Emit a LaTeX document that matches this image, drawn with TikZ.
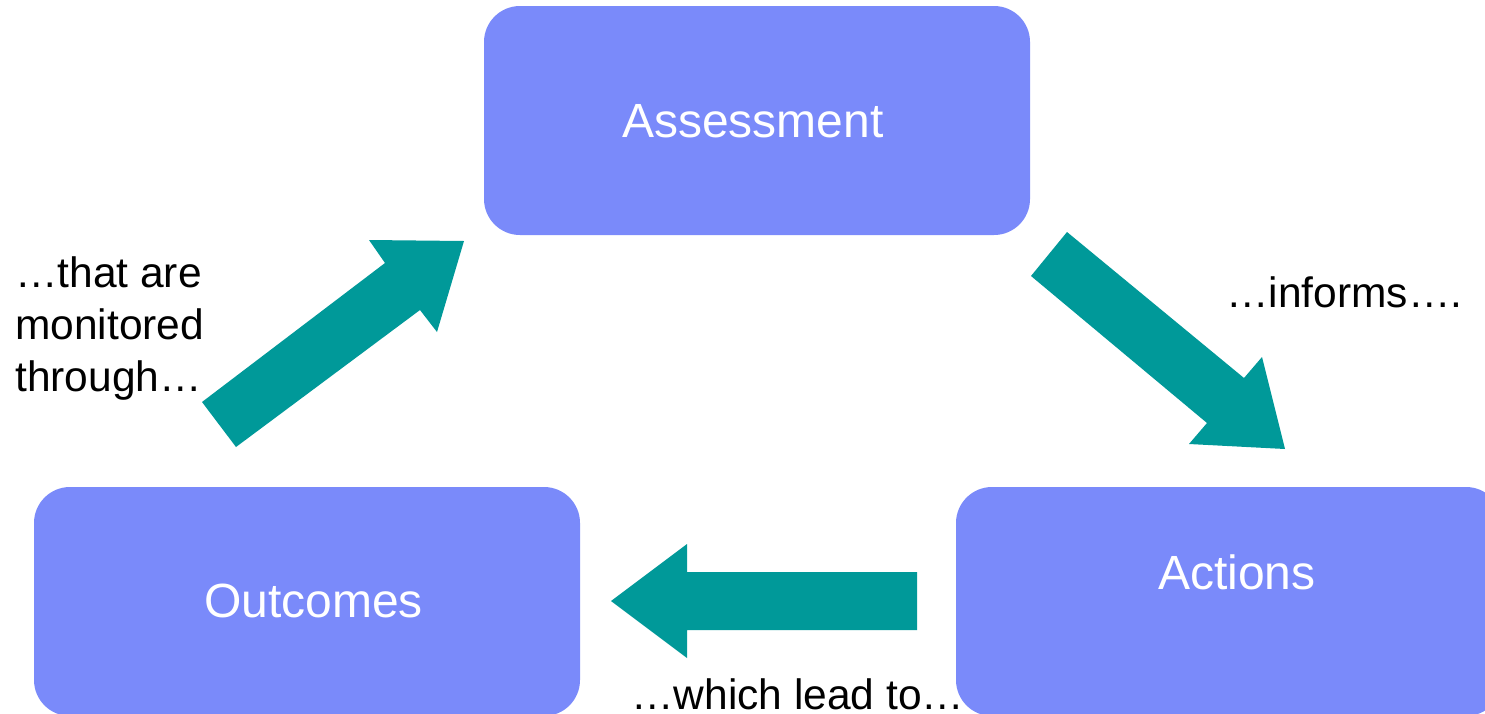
\documentclass[tikz,border=0pt]{standalone}
\usepackage{fontspec}
\setmainfont{Liberation Sans}
\definecolor{boxblue}{RGB}{122,138,250}
\definecolor{teal}{RGB}{0,153,153}
\begin{document}
\begin{tikzpicture}[x=1pt,y=-1pt,
  stagebox/.style={fill=boxblue, draw=none, rounded corners=36pt, minimum width=546pt, minimum height=229pt, inner sep=0pt},
  stagetext/.style={text=white, font=\fontsize{48}{57}\selectfont, anchor=base west, inner sep=0pt},
  labeltext/.style={text=black, font=\fontsize{42.5}{52}\selectfont, anchor=base west, inner sep=0pt},
  blockarrow/.style={fill=teal, draw=none}]
\useasboundingbox (0,0) rectangle (1485,713);
\path[fill=white] (0,0) rectangle (1485,713);
% boxes
\node[stagebox] (assess) at (757,120.5) {};
\node[stagebox] (outc) at (307,601.5) {};
\node[stagebox] (act) at (1229,601.5) {};
% box texts
\node[stagetext] (assesst) at (622,137) {Assessment};
\node[stagetext] (outct) at (204,617) {Outcomes};
\node[stagetext] (actt) at (1158,589) {Actions};
% arrows
\fill[blockarrow] (202,402) -- (385,263) -- (369,240) -- (464,241) -- (437,332) -- (420,310) -- (236,447) -- cycle;
\fill[blockarrow] (1067,232) -- (1244,378) -- (1262,357) -- (1285,449) -- (1189,444) -- (1207,423) -- (1031,276) -- cycle;
\fill[blockarrow] (611,601) -- (687,544) -- (687,572) -- (917,572) -- (917,630) -- (687,630) -- (687,658) -- cycle;
% labels
\node[labeltext] (l1a) at (15,287) {…that are};
\node[labeltext] (l1b) at (15,339) {monitored};
\node[labeltext] (l1c) at (15,391) {through…};
\node[labeltext] (l2) at (1226,307) {…informs….};
\node[labeltext] (l3) at (631,709) {…which lead to…};
\end{tikzpicture}
\end{document}
